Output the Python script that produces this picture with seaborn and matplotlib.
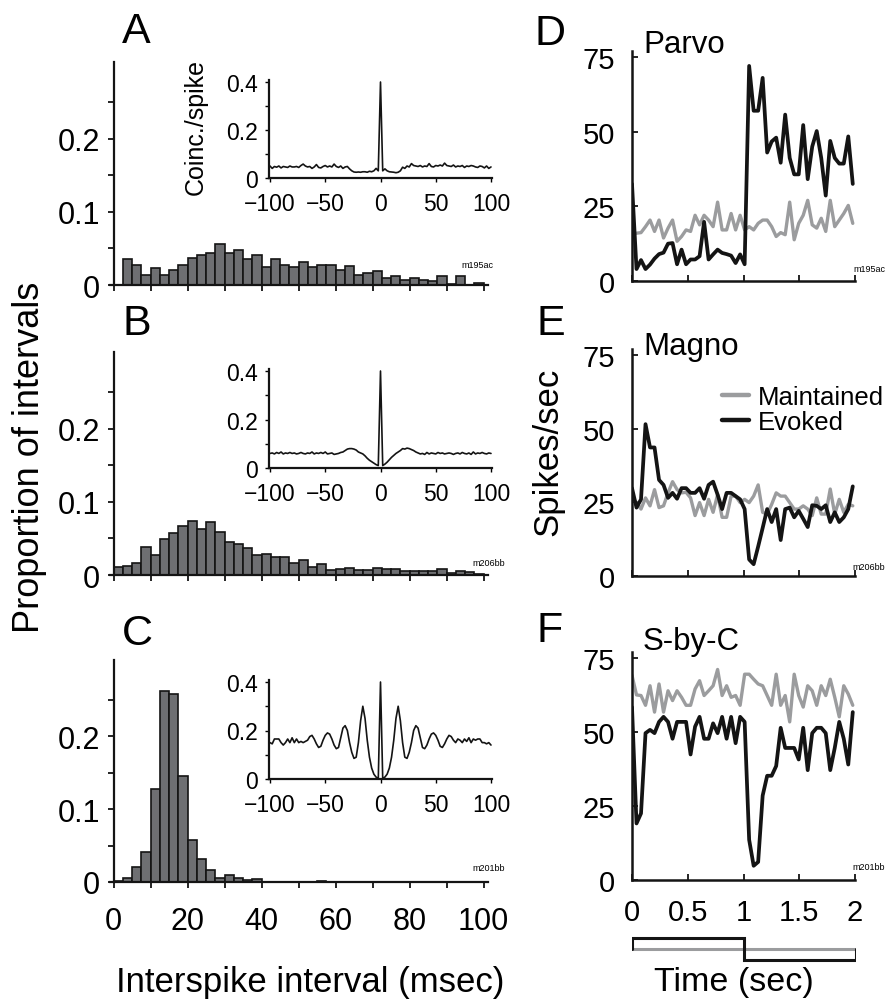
import numpy as np
import pandas as pd
import matplotlib
matplotlib.use('Agg')
import matplotlib.pyplot as plt
import seaborn as sns
from matplotlib.lines import Line2D

sns.set_style('ticks')
plt.rcParams['font.family'] = ['Liberation Sans', 'DejaVu Sans']
plt.rcParams['text.color'] = 'black'
plt.rcParams['axes.labelcolor'] = 'black'
plt.rcParams['xtick.color'] = 'black'
plt.rcParams['ytick.color'] = 'black'

# ---------------- data ----------------
bin_edges = [i * 2.5 for i in range(41)]
bin_centers = [e + 1.25 for e in bin_edges[:-1]]

isi_A = [0, 0.035, 0.027, 0.014, 0.023, 0.014, 0.021, 0.027, 0.037, 0.041,
         0.044, 0.056, 0.044, 0.048, 0.036, 0.041, 0.024, 0.036, 0.027, 0.024,
         0.031, 0.024, 0.027, 0.027, 0.021, 0.026, 0.014, 0.016, 0.019, 0.010,
         0.012, 0.007, 0.009, 0.007, 0.005, 0.012, 0.002, 0.012, 0, 0.003]
isi_B = [0.0105, 0.012, 0.017, 0.038, 0.028, 0.049, 0.058, 0.067, 0.074, 0.063,
         0.073, 0.059, 0.045, 0.043, 0.037, 0.027, 0.029, 0.024, 0.025, 0.016,
         0.021, 0.011, 0.015, 0.007, 0.008, 0.009, 0.007, 0.007, 0.009, 0.008,
         0.008, 0.005, 0.005, 0.005, 0.005, 0.008, 0.003, 0.006, 0.004, 0.002]
isi_C = [0.001, 0.006, 0.021, 0.041, 0.128, 0.263, 0.258, 0.146, 0.058, 0.031,
         0.016, 0.006, 0.009, 0.0055, 0.003, 0.004, 0, 0, 0, 0,
         0, 0, 0.0008, 0, 0, 0, 0, 0, 0, 0,
         0, 0, 0, 0, 0, 0, 0, 0, 0, 0]

lags = np.arange(-100, 101, 2)
ccg_A = [0.050, 0.040, 0.048, 0.045, 0.050, 0.042, 0.048, 0.046, 0.044, 0.050,
         0.046, 0.046, 0.048, 0.044, 0.052, 0.058, 0.050, 0.046, 0.048, 0.040,
         0.046, 0.056, 0.044, 0.042, 0.048, 0.052, 0.046, 0.050, 0.046, 0.058,
         0.048, 0.044, 0.050, 0.040, 0.046, 0.048, 0.038,
         0.030, 0.025, 0.024, 0.025, 0.024, 0.026, 0.026, 0.024, 0.028, 0.026,
         0.030, 0.040, 0.030, 0.400, 0.030, 0.038, 0.030, 0.026, 0.025, 0.024,
         0.022, 0.024, 0.030, 0.045, 0.040, 0.050, 0.046, 0.060,
         0.052, 0.050, 0.048, 0.052, 0.046, 0.050, 0.048, 0.060, 0.048, 0.046,
         0.052, 0.050, 0.054, 0.050, 0.062, 0.052, 0.050, 0.048, 0.054, 0.046,
         0.050, 0.048, 0.052, 0.044, 0.050, 0.048, 0.052, 0.050, 0.046, 0.044,
         0.050, 0.048, 0.042, 0.050, 0.040, 0.046]
ccg_B = [0.060, 0.062, 0.058, 0.064, 0.060, 0.066, 0.058, 0.062, 0.060, 0.064,
         0.060, 0.062, 0.058, 0.060, 0.064, 0.060, 0.058, 0.062, 0.060, 0.066,
         0.058, 0.062, 0.060, 0.064, 0.060, 0.066, 0.058, 0.060, 0.062, 0.056,
         0.058, 0.060, 0.064,
         0.066, 0.072, 0.078, 0.080, 0.080, 0.078, 0.074, 0.066, 0.062, 0.058,
         0.050, 0.040, 0.032, 0.026, 0.020, 0.014, 0.010,
         0.400,
         0.010, 0.016, 0.024, 0.034, 0.044, 0.052, 0.060, 0.066, 0.072, 0.080,
         0.078, 0.082, 0.080, 0.076, 0.072, 0.066, 0.062,
         0.058, 0.060, 0.056, 0.064, 0.058, 0.062, 0.060, 0.058, 0.064, 0.060,
         0.062, 0.058, 0.060, 0.062, 0.060, 0.056, 0.060, 0.062, 0.058, 0.064,
         0.060, 0.058, 0.062, 0.056, 0.066, 0.058, 0.062, 0.060, 0.064, 0.060,
         0.058, 0.062, 0.060]
ccg_C = [0.150, 0.145, 0.165, 0.165, 0.165, 0.150, 0.140, 0.150, 0.165, 0.150,
         0.170, 0.150, 0.165, 0.150, 0.155, 0.150, 0.155, 0.160, 0.175, 0.180,
         0.165, 0.145, 0.130, 0.135, 0.160, 0.180, 0.190, 0.185, 0.165, 0.140,
         0.125, 0.130, 0.170, 0.210, 0.220, 0.200, 0.150, 0.110, 0.085, 0.090,
         0.150, 0.240, 0.300, 0.250, 0.160, 0.090, 0.045, 0.020, 0.008, 0.002,
         0.400,
         0.002, 0.008, 0.020, 0.045, 0.090, 0.160, 0.250, 0.300, 0.240, 0.150,
         0.090, 0.085, 0.110, 0.150, 0.200, 0.220, 0.210, 0.170, 0.130, 0.125,
         0.140, 0.165, 0.185, 0.190, 0.180, 0.160, 0.135, 0.130, 0.145, 0.165,
         0.180, 0.175, 0.160, 0.150, 0.165, 0.160, 0.150, 0.165, 0.155, 0.170,
         0.150, 0.165, 0.160, 0.165, 0.165, 0.150, 0.150, 0.145, 0.150, 0.140]

times = np.linspace(0, 1.98, 50)
parvo_evoked = [32.5, 4, 7, 4, 5.5, 7.5, 9, 9.5, 12.5, 12.7,
                5.6, 10.5, 5.6, 7.2, 7.2, 8.3, 19.8, 7.2, 8.9, 10.5,
                9.4, 9, 8.5, 6, 8.9, 5.6, 72, 57, 57, 68,
                43, 46.7, 48, 39.6, 55.7, 41.2, 35.7, 35.7, 52.2, 34.1,
                45, 50.2, 41.2, 28.6, 46.9, 41.2, 39.3, 39.3, 48.4, 32.5]
parvo_maint = [16, 16, 16.2, 18.2, 20.4, 16.6, 20.4, 14.4, 17.7, 20.4,
               13.3, 14.9, 17.1, 16.6, 22, 18.8, 22, 20.4, 18.2, 26.4,
               17.1, 17.1, 22.6, 17.1, 22, 17.1, 18.2, 17.1, 19.3, 20.4,
               20.4, 18.2, 14.9, 16.2, 15.5, 26.4, 13.8, 19.3, 22, 27,
               18.8, 17.7, 21, 16.6, 27, 18.2, 20.4, 22.6, 25.3, 19.3]
magno_evoked = [29.8, 23.2, 26, 51.5, 43.6, 43.6, 32.6, 30.9, 26.5, 28.2,
                26.2, 29.8, 29.8, 28.2, 28.2, 29.8, 26.2, 30.9, 32, 27.6,
                22.7, 28.2, 28.2, 27.1, 26, 22.7, 5.6, 4, 10, 16.3,
                22.7, 18.3, 22.7, 12.2, 22.7, 23.2, 19.9, 22.1, 19.4, 16.6,
                24, 23.8, 22.7, 24, 18.3, 21.6, 18.3, 19.9, 22.7, 30.4]
magno_maint = [26.5, 24.9, 22.7, 26.5, 23.8, 29.3, 23.2, 23.8, 28.2, 32,
               29.3, 28.2, 28.4, 26.5, 20.5, 24.9, 20.5, 26, 21.6, 27.6,
               19.9, 19.9, 27.1, 27.1, 24.9, 26, 24.9, 27.1, 30.9, 21.6,
               21, 24.3, 28.2, 27.1, 27.1, 24.9, 22.7, 22.7, 23.8, 22.7,
               20.5, 26.5, 21, 21, 29.5, 21, 26, 21.6, 24.3, 23.8]
sbc_evoked = [58.4, 19.1, 22.5, 49.6, 50.7, 49.6, 53.4, 55.1, 53.4, 47.7,
              53.4, 53.4, 53.4, 42.4, 51.8, 55.1, 47.7, 47.7, 52.9, 49.6,
              55.1, 47.7, 55.1, 46.2, 55.1, 53.4, 13.6, 4.8, 6.1, 28.5,
              35.2, 35.2, 38.5, 51.4, 44.6, 44.6, 44.6, 40.7, 51.4, 37.1,
              49.6, 51.4, 51.4, 49.6, 37.1, 44.6, 53.4, 47.7, 39, 56.7]
sbc_maint = [69.1, 62.5, 62.3, 59, 65.6, 56.7, 66.2, 56.7, 63.9, 60.6,
             63.9, 61.7, 59, 59, 64.5, 67.3, 62.3, 63.9, 65.6, 71.1,
             62.3, 65.6, 61.7, 62.3, 59, 69.5, 69.5, 67.8, 66.2, 65.6,
             62.3, 59, 69.5, 59, 62.3, 53.4, 69.5, 62.3, 58.4, 65.6,
             63.9, 59, 65.6, 62.3, 67.8, 61.7, 55.1, 65.6, 62.8, 59]

stim_t = [0, 0, 1, 1, 2, 2]
stim_evoked = [0, 1, 1, -1, -1, 0]
stim_maint_t = [0, 2]
stim_maint = [0, 0]

BAR = '#6e6f72'
EDGE = '#141414'
GRAY = '#9b9c9e'
BLACK = '#141414'

# ---------------- figure ----------------
W, H = 889, 1003
fig = plt.figure(figsize=(W / 100, H / 100), dpi=100)


def ax_px(left, top, right, bottom):
    return fig.add_axes([left / W, 1 - bottom / H, (right - left) / W, (bottom - top) / H])


def style_spines(ax, lw):
    for s in ['top', 'right']:
        ax.spines[s].set_visible(False)
    for s in ['left', 'bottom']:
        ax.spines[s].set_linewidth(lw)
        ax.spines[s].set_color(BLACK)


def hist_panel(top, bottom, heights, xlabels):
    ax = ax_px(110, top, 488, bottom)
    df = pd.DataFrame({'isi': bin_centers, 'prop': heights})
    sns.histplot(data=df, x='isi', weights='prop', bins=bin_edges, ax=ax,
                 color=BAR, edgecolor=EDGE, linewidth=1.2, alpha=1)
    ax.set_xlim(-1, 101.2)
    ax.set_ylim(0, 0.305)
    ax.set_facecolor('none')
    style_spines(ax, 1.6)
    ax.spines['left'].set_position(('data', 0))
    ax.set_ylabel('')
    ax.set_xlabel('')
    ax.set_yticks([0, 0.1, 0.2])
    ax.set_yticklabels(['0', '0.1', '0.2'])
    ax.set_yticks([0.05, 0.15, 0.25], minor=True)
    ax.set_xticks([0, 20, 40, 60, 80, 100])
    ax.set_xticks([10, 30, 50, 70, 90], minor=True)
    ax.tick_params(axis='both', which='both', direction='out', length=4, width=1.2,
                   colors='black', labelsize=22)
    ax.tick_params(axis='y', pad=6)
    ax.tick_params(axis='x', pad=13)
    if not xlabels:
        ax.set_xticklabels([])
    return ax


def inset_panel(zero_y, top_y, vals):
    scale = (zero_y - top_y) / 0.4
    ax = ax_px(268.9, zero_y - 0.41 * scale, 492.1, zero_y)
    df = pd.DataFrame({'lag': lags, 'cc': vals})
    sns.lineplot(data=df, x='lag', y='cc', ax=ax, color=BLACK, lw=1.2)
    ax.set_xlim(-101, 101)
    ax.set_ylim(0, 0.41)
    ax.set_facecolor('none')
    style_spines(ax, 1.6)
    ax.set_yticks([0, 0.2, 0.4])
    ax.set_yticklabels(['0', '0.2', '0.4'])
    ax.set_yticks([0.1, 0.3], minor=True)
    ax.set_xticks([-100, -50, 0, 50, 100])
    ax.tick_params(axis='both', which='both', direction='out', length=3, width=1.0,
                   colors='black', labelsize=16.5)
    ax.tick_params(axis='y', pad=5)
    ax.tick_params(axis='x', pad=7)
    ax.set_xlabel('')
    ax.set_ylabel('')
    return ax


def rate_panel(top, bottom, maint, evoked, xlabels):
    ax = ax_px(632, top, 855, bottom)
    df = pd.DataFrame({'t': times, 'maint': maint, 'evoked': evoked})
    sns.lineplot(data=df, x='t', y='maint', ax=ax, color=GRAY, lw=2.4)
    sns.lineplot(data=df, x='t', y='evoked', ax=ax, color=BLACK, lw=2.7)
    ax.set_xlim(0, 2)
    ax.set_ylim(0, 77)
    ax.set_facecolor('none')
    style_spines(ax, 1.8)
    ax.set_yticks([0, 25, 50, 75])
    ax.set_xticks([0, 0.5, 1, 1.5, 2])
    ax.set_xticklabels(['0', '0.5', '1', '1.5', '2'])
    ax.tick_params(axis='both', which='both', direction='in', length=4, width=1.2,
                   colors='black', labelsize=21)
    ax.tick_params(axis='y', pad=12)
    ax.tick_params(axis='x', pad=13)
    ax.set_xlabel('')
    ax.set_ylabel('')
    if not xlabels:
        ax.set_xticklabels([])
    return ax


axA = hist_panel(63, 286, isi_A, False)
axB = hist_panel(353, 576, isi_B, False)
axC = hist_panel(661, 883, isi_C, True)

inset_panel(179, 83, ccg_A)
inset_panel(469, 372, ccg_B)
inset_panel(780, 683, ccg_C)

axD = rate_panel(52, 282, parvo_maint, parvo_evoked, False)
axE = rate_panel(350, 577, magno_maint, magno_evoked, False)
axF = rate_panel(653, 881, sbc_maint, sbc_evoked, True)

# stimulus trace
axS = ax_px(632, 933, 856, 967)
axS.plot(stim_maint_t, stim_maint, color=GRAY, lw=2.2, solid_capstyle='butt')
axS.plot(stim_t, stim_evoked, color=BLACK, lw=2.2, solid_joinstyle='miter')
axS.set_xlim(0, 2)
axS.set_ylim(-1.55, 1.55)
axS.axis('off')

# legend
handles = [Line2D([], [], color=GRAY, lw=3.2), Line2D([], [], color=BLACK, lw=3.2)]
axE.legend(handles, ['Maintained', 'Evoked'], loc='upper left',
           bbox_to_anchor=(722 / W, 1 - 386 / H), bbox_transform=fig.transFigure,
           frameon=False, fontsize=18.5, handlelength=1.05, handletextpad=0.35,
           labelspacing=0.02, borderpad=0, borderaxespad=0)


def ftext(x, y, s, **kw):
    fig.text(x / W, 1 - y / H, s, **kw)


ftext(196, 127, 'Coinc./spike', rotation=90, fontsize=18, ha='center', va='center')

for letter, x, y in [('A', 122, 43), ('B', 123, 335), ('C', 122, 645),
                     ('D', 534, 45), ('E', 536, 335), ('F', 537, 642)]:
    ftext(x, y, letter, fontsize=31, va='baseline', ha='left')

for title, y in [('Parvo', 53), ('Magno', 355), ('S-by-C', 650)]:
    ftext(643, y, title, fontsize=22.5, va='baseline', ha='left')

for tag, x, y in [('m195ac', 493, 265), ('m206bb', 505, 563), ('m201bb', 505, 869),
                  ('m195ac', 885, 269), ('m206bb', 885, 567), ('m201bb', 885, 868)]:
    ftext(x, y, tag, fontsize=6.5, va='center', ha='right')

ftext(30, 457, 'Proportion of intervals', rotation=90, fontsize=26, ha='center', va='center')
ftext(548, 452, 'Spikes/sec', rotation=90, fontsize=25, ha='center', va='center')
ftext(310, 983, 'Interspike interval (msec)', fontsize=25, ha='center', va='center')
ftext(734, 983, 'Time (sec)', fontsize=24.5, ha='center', va='center')

fig.savefig('out.png', dpi=100)
